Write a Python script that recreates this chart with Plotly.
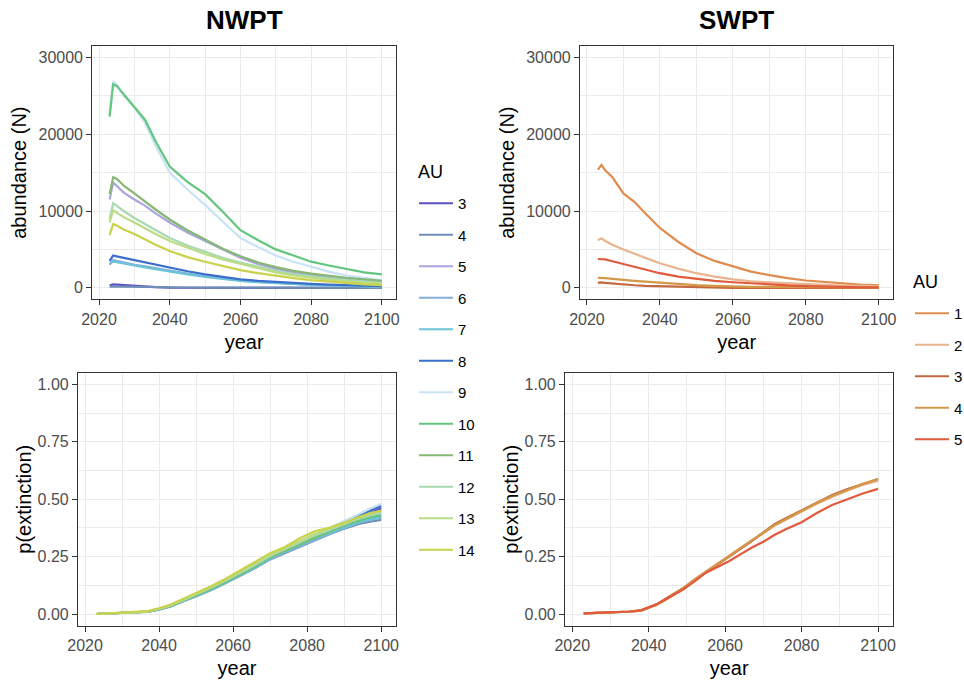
import plotly.graph_objects as go

# ---------------- data ----------------
nw_units = ["3", "4", "5", "6", "7", "8", "9", "10", "11", "12", "13", "14"]
nw_colors = ["#5B50C6", "#6F8DB6", "#A9A5DC", "#86AED6", "#6CC3D9", "#3B6FCB",
             "#C8E3F5", "#63C67F", "#86B873", "#A9D9B1", "#BADC84", "#C9D24A"]

sw_units = ["1", "2", "3", "4", "5"]
sw_colors = ["#E08C50", "#E9B58E", "#C4683F", "#D29A48", "#E15A3C"]

# abundance years
yrs_n = [2023, 2024, 2025, 2027, 2030, 2033, 2036, 2040, 2045, 2050,
         2055, 2060, 2065, 2070, 2075, 2080, 2085, 2090, 2095, 2100]

nw_abund = {
    "3":  [300, 450, 420, 350, 250, 150, 80, 20, 0, 0, 0, 0, 0, 0, 0, 0, 0, 0, 0, 0],
    "4":  [150, 180, 170, 150, 120, 100, 80, 60, 40, 30, 20, 15, 10, 8, 5, 3, 2, 1, 0, 0],
    "5":  [11500, 13700, 13300, 12400, 11500, 10700, 9700, 8500, 7200, 6100, 5000, 3900, 3100, 2500, 2000, 1650, 1300, 1050, 850, 700],
    "6":  [3000, 3600, 3500, 3300, 3000, 2800, 2550, 2250, 1850, 1500, 1200, 950, 780, 640, 520, 420, 340, 270, 210, 160],
    "7":  [3300, 3400, 3350, 3150, 2900, 2650, 2400, 2100, 1750, 1420, 1150, 900, 730, 600, 480, 390, 310, 250, 190, 150],
    "8":  [3500, 4200, 4100, 3900, 3600, 3300, 3000, 2600, 2150, 1750, 1400, 1100, 900, 750, 600, 500, 400, 330, 260, 200],
    "9":  [22500, 26900, 26500, 25000, 23500, 21500, 18500, 15000, 12800, 10800, 8600, 6500, 5300, 4200, 3400, 2700, 2100, 1600, 1300, 1000],
    "10": [22300, 26500, 26300, 25200, 23700, 21900, 19100, 15800, 13800, 12200, 9900, 7500, 6200, 5000, 4200, 3400, 2900, 2400, 2000, 1750],
    "11": [12200, 14400, 14200, 13300, 12300, 11200, 10200, 8900, 7500, 6300, 5100, 4100, 3300, 2700, 2200, 1850, 1550, 1300, 1100, 900],
    "12": [9000, 11000, 10700, 10000, 9100, 8300, 7500, 6500, 5500, 4700, 3900, 3300, 2700, 2200, 1800, 1500, 1200, 1000, 800, 650],
    "13": [8500, 10100, 9800, 9200, 8500, 7700, 7000, 6100, 5200, 4400, 3700, 3100, 2500, 2000, 1600, 1300, 1050, 850, 650, 500],
    "14": [6900, 8300, 8100, 7600, 7000, 6300, 5600, 4800, 4000, 3400, 2800, 2300, 1900, 1550, 1250, 1000, 800, 600, 450, 350],
}

yrs_s = [2023, 2024, 2025, 2027, 2030, 2033, 2036, 2040, 2045, 2050,
         2055, 2060, 2065, 2070, 2075, 2080, 2085, 2090, 2095, 2100]

sw_abund = {
    "1": [15400, 16000, 15300, 14400, 12300, 11200, 9700, 7800, 6000, 4500, 3500, 2750, 2100, 1650, 1250, 950, 750, 550, 420, 350],
    "2": [6200, 6450, 6100, 5600, 5000, 4400, 3900, 3200, 2500, 1900, 1450, 1100, 850, 700, 560, 450, 370, 300, 260, 230],
    "3": [650, 700, 650, 550, 400, 330, 260, 210, 120, 30, 0, 0, 0, 0, 0, 0, 0, 0, 0, 0],
    "4": [1300, 1300, 1250, 1150, 1000, 900, 800, 650, 500, 350, 250, 160, 130, 110, 100, 90, 80, 70, 60, 60],
    "5": [3750, 3750, 3700, 3450, 3100, 2700, 2400, 1900, 1450, 1150, 900, 720, 560, 420, 320, 220, 150, 100, 70, 50],
}

# extinction probability years
yrs_pn = [2023, 2026, 2030, 2034, 2037, 2040, 2043, 2046, 2050, 2054, 2058,
          2062, 2066, 2070, 2074, 2078, 2082, 2086, 2090, 2094, 2097, 2100]

nw_pext = {
    "3":  [0, 0.002, 0.004, 0.006, 0.010, 0.020, 0.034, 0.056, 0.082, 0.110, 0.140, 0.172, 0.208, 0.245, 0.272, 0.300, 0.335, 0.362, 0.392, 0.420, 0.440, 0.460],
    "4":  [0, 0.002, 0.004, 0.006, 0.010, 0.021, 0.033, 0.052, 0.078, 0.105, 0.135, 0.168, 0.200, 0.238, 0.265, 0.295, 0.322, 0.348, 0.372, 0.392, 0.402, 0.410],
    "5":  [0, 0.002, 0.004, 0.006, 0.010, 0.022, 0.035, 0.054, 0.080, 0.108, 0.138, 0.172, 0.205, 0.244, 0.272, 0.300, 0.330, 0.355, 0.380, 0.405, 0.420, 0.430],
    "6":  [0, 0.002, 0.003, 0.006, 0.009, 0.019, 0.032, 0.052, 0.076, 0.104, 0.135, 0.168, 0.202, 0.240, 0.268, 0.296, 0.325, 0.350, 0.375, 0.398, 0.410, 0.420],
    "7":  [0, 0.002, 0.004, 0.006, 0.010, 0.020, 0.033, 0.053, 0.078, 0.106, 0.137, 0.170, 0.204, 0.242, 0.270, 0.298, 0.328, 0.352, 0.377, 0.400, 0.412, 0.420],
    "8":  [0, 0.002, 0.004, 0.007, 0.011, 0.022, 0.036, 0.057, 0.085, 0.115, 0.146, 0.180, 0.214, 0.250, 0.278, 0.306, 0.340, 0.370, 0.398, 0.428, 0.450, 0.470],
    "9":  [0, 0.003, 0.005, 0.007, 0.012, 0.024, 0.038, 0.060, 0.088, 0.118, 0.150, 0.184, 0.218, 0.255, 0.284, 0.314, 0.346, 0.376, 0.405, 0.436, 0.460, 0.480],
    "10": [0, 0.002, 0.004, 0.006, 0.010, 0.021, 0.034, 0.055, 0.080, 0.108, 0.140, 0.173, 0.207, 0.246, 0.274, 0.303, 0.333, 0.358, 0.385, 0.408, 0.422, 0.430],
    "11": [0, 0.002, 0.004, 0.006, 0.010, 0.022, 0.036, 0.056, 0.083, 0.112, 0.144, 0.178, 0.212, 0.250, 0.279, 0.308, 0.338, 0.363, 0.390, 0.415, 0.430, 0.440],
    "12": [0, 0.002, 0.004, 0.007, 0.011, 0.022, 0.036, 0.057, 0.084, 0.114, 0.146, 0.180, 0.215, 0.253, 0.282, 0.312, 0.342, 0.366, 0.392, 0.416, 0.430, 0.440],
    "13": [0, 0.003, 0.005, 0.007, 0.012, 0.024, 0.038, 0.060, 0.088, 0.118, 0.150, 0.185, 0.220, 0.258, 0.288, 0.318, 0.348, 0.372, 0.398, 0.422, 0.438, 0.450],
    "14": [0, 0.003, 0.005, 0.008, 0.013, 0.025, 0.040, 0.062, 0.090, 0.121, 0.154, 0.190, 0.226, 0.265, 0.292, 0.330, 0.360, 0.376, 0.398, 0.424, 0.440, 0.450],
}

yrs_ps = [2023, 2027, 2031, 2035, 2038, 2040, 2042, 2044, 2046, 2049, 2052, 2055, 2058,
          2061, 2064, 2067, 2070, 2073, 2076, 2080, 2084, 2088, 2092, 2096, 2100]

sw_pext = {
    "1": [0.003, 0.005, 0.006, 0.010, 0.015, 0.026, 0.040, 0.060, 0.080, 0.110, 0.150, 0.185, 0.215, 0.250, 0.285, 0.320, 0.355, 0.390, 0.415, 0.450, 0.485, 0.515, 0.540, 0.565, 0.585],
    "2": [0.003, 0.005, 0.006, 0.010, 0.016, 0.028, 0.042, 0.062, 0.084, 0.114, 0.152, 0.186, 0.218, 0.252, 0.288, 0.322, 0.352, 0.385, 0.412, 0.446, 0.480, 0.510, 0.538, 0.562, 0.580],
    "3": [0.003, 0.005, 0.007, 0.011, 0.016, 0.027, 0.041, 0.061, 0.082, 0.112, 0.148, 0.182, 0.214, 0.248, 0.284, 0.318, 0.356, 0.392, 0.418, 0.452, 0.486, 0.518, 0.545, 0.568, 0.588],
    "4": [0.003, 0.005, 0.006, 0.010, 0.015, 0.026, 0.039, 0.058, 0.079, 0.109, 0.149, 0.184, 0.216, 0.251, 0.286, 0.321, 0.354, 0.388, 0.414, 0.449, 0.484, 0.514, 0.541, 0.566, 0.588],
    "5": [0.003, 0.005, 0.006, 0.011, 0.016, 0.030, 0.042, 0.060, 0.078, 0.106, 0.142, 0.180, 0.205, 0.230, 0.260, 0.290, 0.315, 0.345, 0.370, 0.400, 0.440, 0.475, 0.500, 0.525, 0.545],
}

# ---------------- figure ----------------
W, H = 964, 681
fig = go.Figure()

for u, c in zip(nw_units, nw_colors):
    fig.add_trace(go.Scatter(x=yrs_n, y=nw_abund[u], mode="lines", name=u,
                             line=dict(color=c, width=2.2), legend="legend",
                             legendgroup="n" + u, xaxis="x", yaxis="y"))
for u, c in zip(nw_units, nw_colors):
    fig.add_trace(go.Scatter(x=yrs_pn, y=nw_pext[u], mode="lines", name=u,
                             line=dict(color=c, width=2.2), showlegend=False,
                             legendgroup="n" + u, xaxis="x3", yaxis="y3"))
for u, c in zip(sw_units, sw_colors):
    fig.add_trace(go.Scatter(x=yrs_s, y=sw_abund[u], mode="lines", name=u,
                             line=dict(color=c, width=2.2), legend="legend2",
                             legendgroup="s" + u, xaxis="x2", yaxis="y2"))
for u, c in zip(sw_units, sw_colors):
    fig.add_trace(go.Scatter(x=yrs_ps, y=sw_pext[u], mode="lines", name=u,
                             line=dict(color=c, width=2.2), showlegend=False,
                             legendgroup="s" + u, xaxis="x4", yaxis="y4"))

FONT = "Liberation Sans, Arial, Helvetica, sans-serif"
grid = "#EBEBEB"
border = "#333333"
tickc = "#4D4D4D"

def xax(dom, anchor):
    return dict(domain=dom, anchor=anchor, range=[2018.1, 2104.0],
                tickmode="array", tickvals=[2020, 2040, 2060, 2080, 2100],
                showgrid=True, gridcolor=grid, gridwidth=1.3,
                minor=dict(tickmode="array", tickvals=[2030, 2050, 2070, 2090],
                           showgrid=True, gridcolor=grid, gridwidth=0.7),
                showline=True, linecolor=border, linewidth=1.2, mirror=True,
                ticks="outside", ticklen=5, tickwidth=1.1, tickcolor=border,
                tickfont=dict(size=16, color=tickc, family=FONT),
                title=dict(text="year", font=dict(size=20, color="black", family=FONT), standoff=8),
                zeroline=False, fixedrange=True)

def yax_ab(dom, anchor):
    return dict(domain=dom, anchor=anchor, range=[-1500, 31500],
                tickmode="array", tickvals=[0, 10000, 20000, 30000],
                ticktext=["0", "10000", "20000", "30000"],
                showgrid=True, gridcolor=grid, gridwidth=1.3,
                minor=dict(tickmode="array", tickvals=[5000, 15000, 25000],
                           showgrid=True, gridcolor=grid, gridwidth=0.7),
                showline=True, linecolor=border, linewidth=1.2, mirror=True,
                ticks="outside", ticklen=5, tickwidth=1.1, tickcolor=border,
                tickfont=dict(size=16, color=tickc, family=FONT),
                title=dict(text="abundance (N)", font=dict(size=20, color="black", family=FONT), standoff=6),
                zeroline=False, fixedrange=True)

def yax_p(dom, anchor):
    return dict(domain=dom, anchor=anchor, range=[-0.05, 1.05],
                tickmode="array", tickvals=[0, 0.25, 0.5, 0.75, 1.0],
                ticktext=["0.00", "0.25", "0.50", "0.75", "1.00"],
                showgrid=True, gridcolor=grid, gridwidth=1.3,
                minor=dict(tickmode="array", tickvals=[0.125, 0.375, 0.625, 0.875],
                           showgrid=True, gridcolor=grid, gridwidth=0.7),
                showline=True, linecolor=border, linewidth=1.2, mirror=True,
                ticks="outside", ticklen=5, tickwidth=1.1, tickcolor=border,
                tickfont=dict(size=16, color=tickc, family=FONT),
                title=dict(text="p(extinction)", font=dict(size=20, color="black", family=FONT), standoff=0),
                zeroline=False, fixedrange=True)

# panel boxes in pixels
TL = (92.3, 396.0, 46.0, 299.3)
TR = (580.0, 893.3, 46.0, 299.3)
BL = (78.0, 396.0, 373.0, 625.5)
BR = (565.0, 893.3, 373.0, 625.5)

def xd(b):
    return [b[0] / W, b[1] / W]

def yd(b):
    return [1 - b[3] / H, 1 - b[2] / H]

leg_common = dict(xanchor="left", yanchor="top",
                  font=dict(size=15, color="black", family=FONT),
                  tracegroupgap=9, itemwidth=34, bgcolor="rgba(0,0,0,0)")

fig.update_layout(
    width=W, height=H,
    margin=dict(l=0, r=0, t=0, b=0, autoexpand=False),
    paper_bgcolor="white", plot_bgcolor="white",
    font=dict(family=FONT),
    xaxis=xax(xd(TL), "y"), yaxis=yax_ab(yd(TL), "x"),
    xaxis2=xax(xd(TR), "y2"), yaxis2=yax_ab(yd(TR), "x2"),
    xaxis3=xax(xd(BL), "y3"), yaxis3=yax_p(yd(BL), "x3"),
    xaxis4=xax(xd(BR), "y4"), yaxis4=yax_p(yd(BR), "x4"),
    legend=dict(x=414 / W, y=1 - 187 / H, **leg_common),
    legend2=dict(x=910 / W, y=1 - 297 / H, **leg_common),
    annotations=[
        dict(text="<b>NWPT</b>", x=(TL[0] + TL[1]) / 2 / W, y=1 - 20 / H, xref="paper", yref="paper",
             showarrow=False, font=dict(size=26, color="black", family=FONT), xanchor="center", yanchor="middle"),
        dict(text="<b>SWPT</b>", x=(TR[0] + TR[1]) / 2 / W, y=1 - 20 / H, xref="paper", yref="paper",
             showarrow=False, font=dict(size=26, color="black", family=FONT), xanchor="center", yanchor="middle"),
        dict(text="AU", x=416 / W, y=1 - 172 / H, xref="paper", yref="paper",
             showarrow=False, font=dict(size=18, color="black", family=FONT), xanchor="left", yanchor="middle"),
        dict(text="AU", x=911 / W, y=1 - 282 / H, xref="paper", yref="paper",
             showarrow=False, font=dict(size=18, color="black", family=FONT), xanchor="left", yanchor="middle"),
    ],
)

fig.write_html("out.html", config={"displayModeBar": False},
               post_script="document.body.style.margin='0';document.body.style.overflow='hidden';")
